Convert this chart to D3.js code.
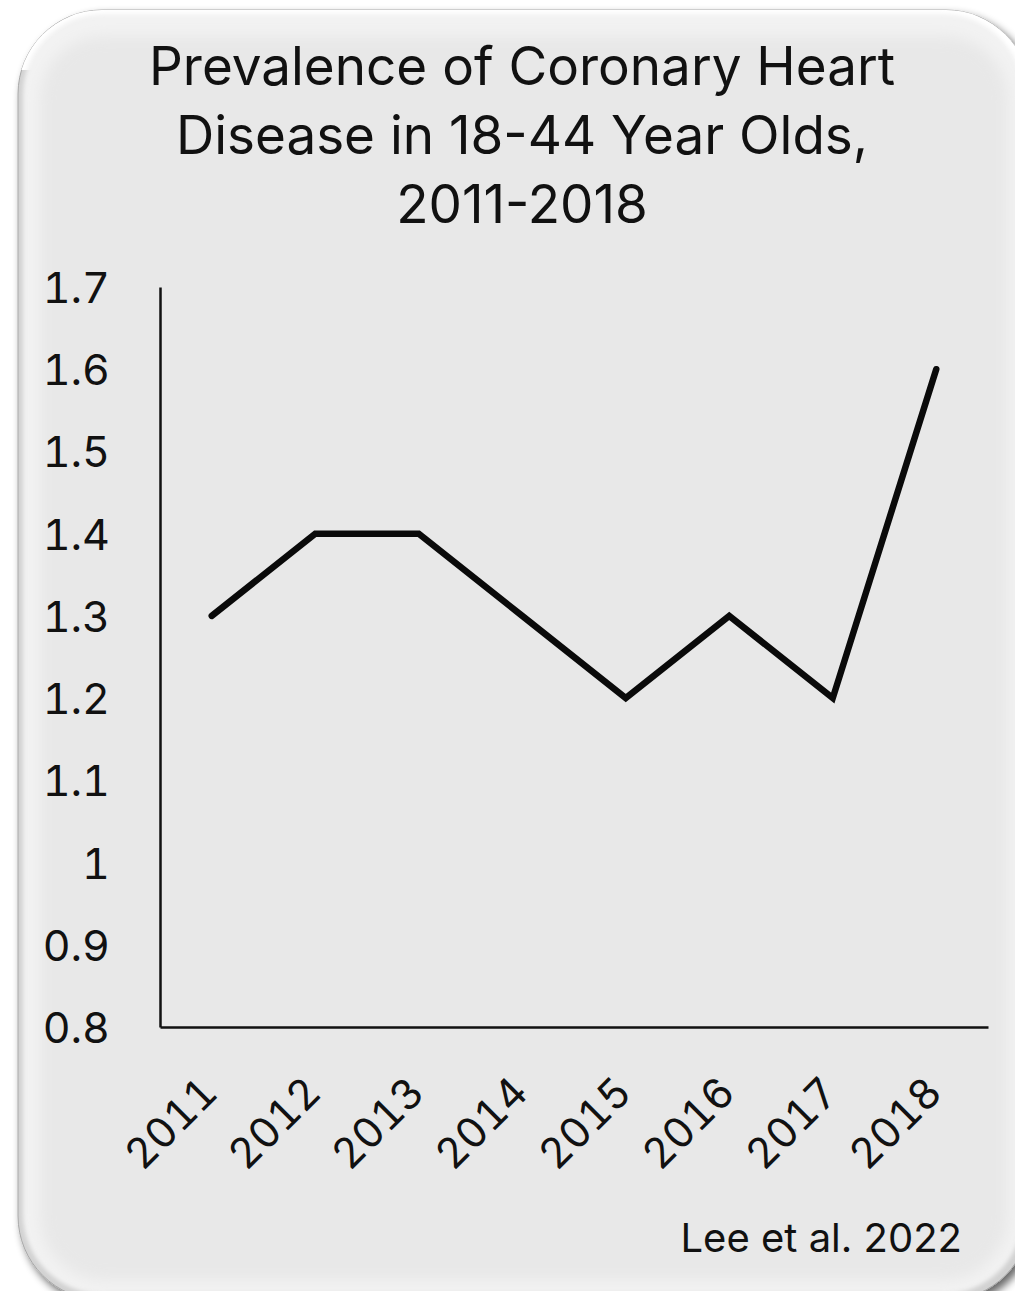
<!DOCTYPE html>
<html>
<head>
<meta charset="utf-8">
<script src="https://cdn.jsdelivr.net/npm/d3@7"></script>
<style>
  html, body { margin: 0; padding: 0; background: #ffffff; }
  svg { display: block; }
  text { font-family: Inter, "Liberation Sans", Arial, sans-serif; fill: #111; }
  .num { font-variant-numeric: tabular-nums; font-feature-settings: "tnum" 1; }
</style>
</head>
<body>
<svg id="chart" width="1015" height="1291"></svg>
<script>
// Prevalence of coronary heart disease (%), adults aged 18-44
const years = ["2011", "2012", "2013", "2014", "2015", "2016", "2017", "2018"];
const prevalence = [1.3, 1.4, 1.4, 1.3, 1.2, 1.3, 1.2, 1.6];
const yTicks = [0.8, 0.9, 1.0, 1.1, 1.2, 1.3, 1.4, 1.5, 1.6, 1.7];
const titleLines = ["Prevalence of Coronary Heart", "Disease in 18-44 Year Olds,", "2011-2018"];
const sourceNote = "Lee et al. 2022";

const FONT = "Inter, 'Liberation Sans', Arial, sans-serif";
const svg = d3.select("#chart");

// ---- card background with soft bevel ----
const card = { x: 18, y: 10, w: 1012, h: 1290, r: 84 };
const defs = svg.append("defs");

defs.append("clipPath").attr("id", "cardClip")
  .append("rect").attr("x", card.x).attr("y", card.y)
  .attr("width", card.w).attr("height", card.h).attr("rx", card.r);

const shadow = defs.append("filter").attr("id", "cardShadow")
  .attr("x", "-5%").attr("y", "-5%").attr("width", "115%").attr("height", "115%");
shadow.append("feGaussianBlur").attr("in", "SourceAlpha").attr("stdDeviation", 4);
shadow.append("feOffset").attr("dx", 4).attr("dy", 5).attr("result", "off");
shadow.append("feComponentTransfer").append("feFuncA").attr("type", "linear").attr("slope", 0.6);
const sm = shadow.append("feMerge");
sm.append("feMergeNode");
sm.append("feMergeNode").attr("in", "SourceGraphic");

const soft = defs.append("filter").attr("id", "softEdge")
  .attr("x", "-10%").attr("y", "-10%").attr("width", "120%").attr("height", "120%");
soft.append("feGaussianBlur").attr("stdDeviation", 7);

const softer = defs.append("filter").attr("id", "softEdge2")
  .attr("x", "-10%").attr("y", "-10%").attr("width", "120%").attr("height", "120%");
softer.append("feGaussianBlur").attr("stdDeviation", 2);

// base card with drop shadow
svg.append("rect")
  .attr("x", card.x).attr("y", card.y).attr("width", card.w).attr("height", card.h)
  .attr("rx", card.r).attr("fill", "#d2d2d2").attr("stroke", "#a8a8a8").attr("stroke-width", 1)
  .attr("filter", "url(#cardShadow)");

const bevel = svg.append("g").attr("clip-path", "url(#cardClip)");
// bright top highlight
bevel.append("rect")
  .attr("x", card.x).attr("y", card.y).attr("width", card.w).attr("height", 60)
  .attr("fill", "#ffffff");
// lighter inner face
bevel.append("rect")
  .attr("x", card.x + 5).attr("y", card.y + 4).attr("width", card.w - 12).attr("height", card.h - 10)
  .attr("rx", card.r - 4).attr("fill", "#f2f2f2").attr("filter", "url(#softEdge2)");
// main face
bevel.append("rect")
  .attr("x", card.x + 22).attr("y", card.y + 26).attr("width", card.w - 44).attr("height", card.h - 46)
  .attr("rx", card.r - 20).attr("fill", "#e8e8e8").attr("filter", "url(#softEdge)");

// ---- chart area ----
const plot = { left: 160, right: 988, top: 287, bottom: 1027 };

const x = d3.scaleBand().domain(years).range([plot.left, plot.right]);
const y = d3.scaleLinear().domain([0.8, 1.7]).range([plot.bottom, plot.top]);

// y axis
const yAxis = svg.append("g")
  .attr("transform", `translate(${plot.left},0)`)
  .call(d3.axisLeft(y).tickValues(yTicks).tickSize(0).tickSizeOuter(0).tickPadding(50)
    .tickFormat(d => String(+d.toFixed(1))));
yAxis.select(".domain").attr("stroke", "#111").attr("stroke-width", 2.5);
yAxis.selectAll("text").attr("class", "num").attr("font-size", 43).attr("fill", "#111")
  .attr("font-family", FONT).attr("dy", "0.36em");

// x axis
const xAxis = svg.append("g")
  .attr("transform", `translate(0,${plot.bottom})`)
  .call(d3.axisBottom(x).tickSize(0).tickSizeOuter(0));
xAxis.select(".domain").attr("stroke", "#111").attr("stroke-width", 2.5);
xAxis.selectAll("text")
  .attr("class", "num")
  .attr("font-size", 42).attr("fill", "#111")
  .attr("font-family", FONT)
  .attr("text-anchor", "end")
  .attr("y", 0).attr("dy", 0)
  .attr("transform", "translate(8,68) rotate(-45)");

// data line
const line = d3.line()
  .x((d, i) => x(years[i]) + x.bandwidth() / 2)
  .y(d => y(d));
svg.append("path")
  .datum(prevalence)
  .attr("d", line)
  .attr("fill", "none")
  .attr("stroke", "#0a0a0a")
  .attr("stroke-width", 6.5)
  .attr("stroke-linejoin", "miter")
  .attr("stroke-linecap", "round");

// title
svg.append("g").selectAll("text")
  .data(titleLines)
  .join("text")
  .attr("x", 522)
  .attr("y", (d, i) => 85 + i * 69)
  .attr("text-anchor", "middle")
  .attr("font-size", 53)
  .attr("font-family", FONT)
  .text(d => d);

// source note
svg.append("text")
  .attr("x", 962).attr("y", 1252)
  .attr("text-anchor", "end")
  .attr("font-size", 40)
  .attr("font-family", FONT)
  .text(sourceNote);
</script>
</body>
</html>
